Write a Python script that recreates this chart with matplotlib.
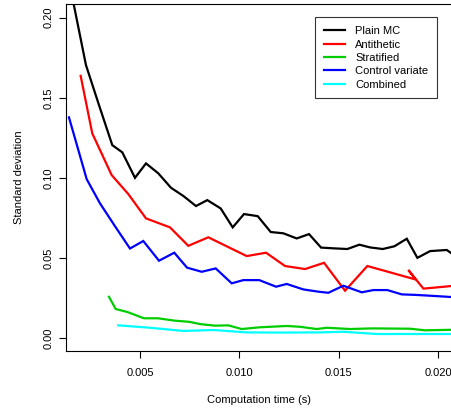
import matplotlib
matplotlib.use("Agg")
import matplotlib.pyplot as plt
from matplotlib.ticker import FixedLocator, FormatStrFormatter

plt.rcParams['font.family'] = ['Liberation Sans', 'DejaVu Sans']

# computation time (s) and standard deviation for each estimator
plain_t = [0.001605, 0.002284, 0.002938, 0.003607, 0.004110, 0.004749, 0.005302,
           0.005921, 0.006559, 0.007190, 0.007817, 0.008385, 0.009059, 0.009663,
           0.010231, 0.010920, 0.011575, 0.012208, 0.012882, 0.013501, 0.014105,
           0.014770, 0.015428, 0.016031, 0.016569, 0.017208, 0.017792, 0.018416,
           0.018949, 0.019588, 0.020428, 0.021000]
plain_sd = [0.2122, 0.1704, 0.1455, 0.1205, 0.1160, 0.1001, 0.1091,
            0.1029, 0.0939, 0.0887, 0.0825, 0.0862, 0.0810, 0.0692,
            0.0775, 0.0762, 0.0663, 0.0655, 0.0623, 0.0650, 0.0566,
            0.0561, 0.0557, 0.0584, 0.0567, 0.0557, 0.0574, 0.0621,
            0.0502, 0.0544, 0.0551, 0.0500]

anti_t = [0.002017, 0.002601, 0.003576, 0.004411, 0.005302, 0.006509, 0.007430,
          0.008436, 0.010367, 0.011338, 0.012294, 0.013300, 0.014256, 0.015312,
          0.016434, 0.018858, 0.018496, 0.019251, 0.021000]
anti_sd = [0.1637, 0.1278, 0.1018, 0.0900, 0.0748, 0.0692, 0.0577,
           0.0630, 0.0513, 0.0534, 0.0451, 0.0432, 0.0471, 0.0297,
           0.0451, 0.0367, 0.0426, 0.0310, 0.0330]

strat_t = [0.003441, 0.003778, 0.004371, 0.005201, 0.005905, 0.006761, 0.007480,
           0.008018, 0.008773, 0.009442, 0.010116, 0.011036, 0.012379, 0.013048,
           0.013888, 0.014391, 0.015563, 0.016655, 0.018581, 0.019336, 0.021000]
strat_sd = [0.0259, 0.0183, 0.0164, 0.0125, 0.0125, 0.0110, 0.0103,
            0.0089, 0.0079, 0.0081, 0.0058, 0.0069, 0.0077, 0.0072,
            0.0058, 0.0066, 0.0058, 0.0062, 0.0060, 0.0050, 0.0054]

cv_t = [0.001429, 0.002319, 0.002988, 0.003707, 0.004497, 0.005166, 0.005956,
        0.006725, 0.007364, 0.008104, 0.008808, 0.009613, 0.010196, 0.011001,
        0.011841, 0.012379, 0.013214, 0.013969, 0.014472, 0.015226, 0.016152,
        0.016736, 0.017440, 0.018164, 0.018833, 0.019552, 0.021000]
cv_sd = [0.1378, 0.0993, 0.0842, 0.0706, 0.0560, 0.0607, 0.0484,
         0.0534, 0.0441, 0.0415, 0.0436, 0.0343, 0.0363, 0.0363,
         0.0322, 0.0339, 0.0305, 0.0291, 0.0284, 0.0328, 0.0287,
         0.0301, 0.0301, 0.0274, 0.0271, 0.0266, 0.0255]

comb_t = [0.003908, 0.005503, 0.007178, 0.008687, 0.010367, 0.012042, 0.014054,
          0.015226, 0.016906, 0.021000]
comb_sd = [0.0081, 0.0066, 0.0046, 0.0052, 0.0037, 0.0036, 0.0037,
           0.0041, 0.0027, 0.0027]

labels = ["Plain MC", "Antithetic", "Stratified", "Control variate", "Combined"]
colours = ["black", "#FF0000", "#00CD00", "#0000FF", "#00FFFF"]

fig = plt.figure(figsize=(4.52, 4.09), dpi=100)
ax = fig.add_axes([66 / 452, 58 / 409, 386 / 452, 347 / 409])

series = [(plain_t, plain_sd), (anti_t, anti_sd), (strat_t, strat_sd),
          (cv_t, cv_sd), (comb_t, comb_sd)]
for (t, sd), lab, col in zip(series, labels, colours):
    ax.plot(t, sd, color=col, lw=1.6, label=lab, solid_joinstyle='miter')

ax.set_xlim(0.00128, 0.02069)
ax.set_ylim(-0.0079, 0.2085)

ax.xaxis.set_major_locator(FixedLocator([0.005, 0.010, 0.015, 0.020]))
ax.xaxis.set_major_formatter(FormatStrFormatter('%.3f'))
ax.yaxis.set_major_locator(FixedLocator([0.00, 0.05, 0.10, 0.15, 0.20]))
ax.yaxis.set_major_formatter(FormatStrFormatter('%.2f'))
ax.tick_params(axis='both', direction='out', length=5, width=0.8,
               labelsize=8, colors='black')
ax.tick_params(axis='x', pad=7.5)
ax.tick_params(axis='y', pad=4)
for lbl in ax.get_yticklabels():
    lbl.set_rotation(90)
    lbl.set_va('center')

for sp in ax.spines.values():
    sp.set_linewidth(0.8)

ax.set_xlabel("Computation time (s)", fontsize=8)
ax.set_ylabel("Standard deviation", fontsize=8)
ax.xaxis.set_label_coords(0.5, -0.126)
ax.yaxis.set_label_coords(-0.109, 0.5)

leg = ax.legend(loc='upper right', bbox_to_anchor=(0.962, 0.9617),
                borderaxespad=0, fontsize=8, frameon=True, fancybox=False,
                edgecolor='black', handlelength=1.9, handletextpad=0.9,
                labelspacing=0.3, borderpad=0.8)
leg.get_frame().set_linewidth(0.8)

fig.savefig("out.png", dpi=100)
